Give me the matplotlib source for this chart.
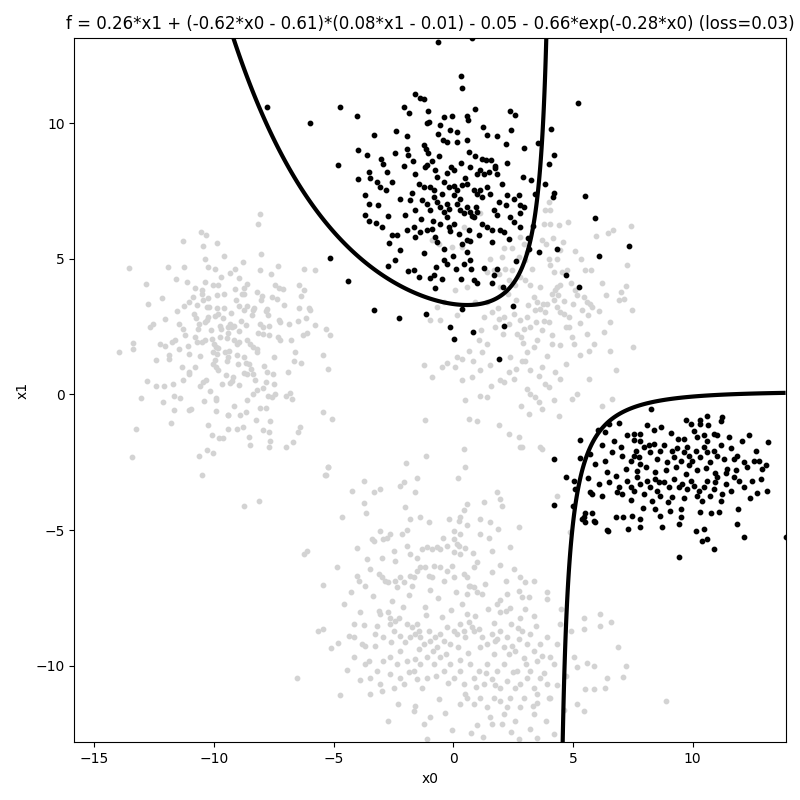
#!/usr/bin/env python3
"""Scatter of two classes with the learned decision boundary f = 0."""

import matplotlib

matplotlib.use("Agg")
import matplotlib.pyplot as plt
import numpy as np


TITLE = ("f = 0.26*x1 + (-0.62*x0 - 0.61)*(0.08*x1 - 0.01) - 0.05 - "
         "0.66*exp(-0.28*x0) (loss=0.03)")

# class 0 (light gray), cluster by cluster
GRAY_LEFT = [
    (-8.08, 6.64), (-8.17, 6.30), (-10.56, 5.97), (-10.32, 5.87), (-11.31, 5.66),
    (-9.86, 5.58), (-10.45, 5.46), (-8.05, 5.19), (-9.58, 5.10), (-13.54, 4.67),
    (-11.91, 4.70), (-11.24, 4.70), (-10.38, 5.00), (-10.24, 4.70), (-9.96, 4.64),
    (-8.80, 4.87), (-8.10, 4.58), (-7.64, 4.45), (-7.34, 4.72), (-6.25, 4.64),
    (-5.77, 4.60), (-9.33, 4.48), (-9.11, 4.63), (-8.94, 4.30), (-11.59, 4.24),
    (-11.14, 4.13), (-12.86, 4.07), (-10.38, 4.15), (-10.03, 4.02), (-9.82, 4.02),
    (-8.63, 4.08), (-8.74, 3.94), (-7.45, 4.02), (-7.27, 3.94), (-7.13, 3.90),
    (-6.47, 4.02), (-6.26, 3.86), (-9.12, 3.89), (-8.84, 3.71), (-8.74, 3.69),
    (-8.21, 3.79), (-8.00, 3.63), (-10.51, 3.84), (-10.49, 3.69), (-9.86, 3.68),
    (-9.57, 3.71), (-7.59, 3.59), (-6.37, 3.63), (-12.19, 3.57), (-10.89, 3.59),
    (-11.03, 3.41), (-12.78, 3.33), (-11.26, 3.27), (-10.72, 3.28), (-10.45, 3.47),
    (-10.31, 3.22), (-10.20, 3.22), (-9.58, 3.20), (-8.98, 3.25), (-8.77, 3.10),
    (-8.38, 3.10), (-8.33, 3.20), (-7.80, 3.16), (-7.82, 3.06), (-7.07, 3.28),
    (-6.47, 3.18), (-6.03, 3.20), (-5.98, 3.10), (-10.75, 2.80), (-10.24, 2.85),
    (-9.96, 2.89), (-9.82, 2.98), (-12.68, 2.48), (-12.54, 2.58), (-11.45, 2.58),
    (-11.31, 2.40), (-10.68, 2.42), (-10.38, 2.67), (-10.31, 2.73), (-9.75, 2.51),
    (-9.72, 2.42), (-9.40, 2.48), (-9.33, 2.58), (-9.16, 2.52), (-8.67, 2.55),
    (-8.08, 2.61), (-7.94, 2.48), (-7.70, 2.51), (-7.24, 2.67), (-7.27, 2.76),
    (-6.51, 2.70), (-6.14, 2.82), (-5.80, 2.56), (-5.31, 2.40), (-5.15, 2.19),
    (-13.96, 1.56), (-13.38, 1.89), (-13.40, 1.66), (-12.26, 1.87), (-12.05, 1.77),
    (-11.77, 1.93), (-11.63, 1.99), (-11.88, 1.44), (-11.88, 1.32), (-11.45, 1.69),
    (-11.08, 1.78), (-11.03, 1.49), (-10.78, 2.11), (-10.72, 1.93), (-10.51, 1.93),
    (-10.38, 1.99), (-10.10, 2.05), (-10.00, 1.87), (-9.92, 1.75), (-10.03, 1.56),
    (-9.89, 1.50), (-9.75, 2.11), (-9.44, 2.26), (-9.26, 2.48), (-9.16, 1.99),
    (-9.05, 1.85), (-8.94, 1.93), (-8.63, 1.99), (-8.52, 1.87), (-8.36, 1.75),
    (-8.21, 1.69), (-8.21, 1.56), (-7.96, 2.24), (-7.69, 2.18), (-7.34, 2.11),
    (-7.24, 2.02), (-6.78, 1.99), (-6.61, 1.56), (-6.65, 1.25), (-6.37, 1.17),
    (-6.29, 2.20), (-6.12, 2.28), (-5.43, 1.44), (-5.24, 0.95), (-9.54, 1.56),
    (-9.47, 1.25), (-9.44, 1.38), (-9.05, 1.44), (-9.02, 1.13), (-8.66, 1.17),
    (-8.55, 1.11), (-8.46, 0.95), (-8.36, 0.76), (-8.63, 0.76), (-8.77, 0.79),
    (-10.05, 1.13), (-9.92, 1.01), (-9.82, 0.89), (-11.34, 1.01), (-11.31, 0.55),
    (-11.06, 0.76), (-11.03, 0.84), (-10.78, 1.01), (-10.59, 0.33), (-10.45, 0.45),
    (-10.33, 0.52), (-12.79, 0.48), (-12.43, 0.30), (-12.09, 0.30), (-13.05, -0.14),
    (-12.12, -0.28), (-11.67, -0.07), (-11.42, -0.14), (-11.67, -0.59), (-10.98, -0.53),
    (-11.03, -0.57), (-9.92, -0.12), (-9.92, -0.22), (-9.92, -0.62), (-9.67, 0.37),
    (-9.33, 0.42), (-9.26, 0.49), (-9.19, 0.64), (-8.63, -0.22), (-8.36, 0.03),
    (-8.21, 0.17), (-7.94, 0.25), (-7.82, 0.45), (-7.80, 0.82), (-7.52, 0.76),
    (-7.49, 0.39), (-7.73, -0.04), (-7.59, -0.10), (-7.45, 0.03), (-6.99, -0.04),
    (-6.82, 0.05), (-6.75, -0.17), (-8.10, -0.49), (-7.82, -0.49), (-9.44, -0.77),
    (-8.91, -0.77), (-9.40, -0.75), (-8.26, -0.93), (-7.96, -1.31), (-7.66, -0.99),
    (-11.80, -1.05), (-10.24, -1.14), (-9.44, -1.27), (-9.05, -1.27), (-8.80, -1.21),
    (-13.26, -1.28), (-10.07, -1.48), (-9.78, -1.60), (-9.64, -1.61), (-8.56, -1.55),
    (-8.49, -1.86), (-7.69, -1.37), (-7.66, -1.70), (-7.70, -1.94), (-6.99, -1.92),
    (-6.72, -1.76), (-6.43, -1.21), (-6.51, -1.37), (-5.43, -0.65), (-5.09, -0.89),
    (-13.43, -2.29), (-10.64, -2.25), (-10.31, -2.04), (-10.04, -2.17), (-10.49, -2.95),
    (-5.34, -2.95), (-5.24, -2.68), (-8.74, -4.10), (-8.13, -3.91),
]

# extra dots in the crowded middle of the left cloud
GRAY_LEFT_CORE = [
    (-9.61, 2.83), (-9.28, 3.02), (-8.87, 2.71), (-10.12, 2.37), (-9.83, 1.71),
    (-9.37, 1.62), (-8.95, 2.33), (-8.41, 2.92), (-10.58, 1.42), (-10.27, 3.54),
    (-9.07, 3.48), (-8.62, 3.27), (-9.51, 0.71), (-8.97, 0.34), (-10.83, 2.98),
    (-11.22, 2.19), (-7.48, 1.37), (-7.91, 1.04), (-8.05, 3.48), (-9.72, 4.33),
    (-10.81, 3.93), (-11.57, 3.06), (-12.07, 2.78), (-8.29, 0.53), (-9.16, -0.41),
    (-10.44, -0.23), (-7.36, 3.53), (-6.88, 2.58), (-6.93, 0.84), (-12.41, 1.27),
    (-11.73, 0.37), (-10.19, 0.11), (-8.67, -0.63), (-9.87, 3.19), (-9.46, 2.09),
    (-8.76, 1.39), (-10.63, 2.61), (-8.18, 2.28), (-7.73, 2.93), (-9.98, 1.28),
]

GRAY_MIDDLE = [
    (3.99, 7.10), (3.85, 6.81), (4.06, 6.79), (4.80, 6.36), (4.41, 6.24),
    (4.06, 6.30), (3.78, 6.30), (6.67, 6.07), (6.47, 5.95), (7.44, 6.20),
    (5.98, 5.83), (4.15, 5.75), (3.89, 5.56), (3.71, 5.68), (5.08, 5.30),
    (4.48, 5.31), (4.34, 5.00), (4.06, 4.76), (3.99, 5.00), (7.27, 4.76),
    (5.49, 4.58), (5.77, 4.58), (4.20, 4.51), (4.55, 4.51), (4.76, 4.58),
    (4.90, 4.09), (5.10, 3.84), (5.18, 3.65), (7.20, 3.99), (6.99, 3.78),
    (7.13, 3.53), (6.92, 3.47), (5.45, 3.59), (5.59, 3.41), (5.80, 3.22),
    (5.73, 3.34), (5.38, 3.10), (4.13, 3.71), (4.27, 3.84), (4.34, 3.96),
    (4.48, 4.02), (4.20, 3.47), (4.34, 3.22), (4.48, 3.04), (4.62, 2.98),
    (4.83, 2.85), (3.92, 3.34), (3.75, 3.34), (3.50, 3.41), (3.36, 3.59),
    (3.22, 4.02), (3.01, 4.21), (2.80, 4.33), (2.46, 4.58), (2.31, 4.21),
    (2.18, 4.64), (2.04, 5.07), (2.10, 5.38), (2.46, 5.38), (2.80, 5.81),
    (2.94, 5.56), (2.73, 5.07), (3.01, 4.94), (1.55, 5.00), (1.69, 4.58),
    (1.41, 4.51), (1.90, 4.45), (1.97, 3.96), (0.43, 6.18), (1.13, 6.67),
    (0.36, 5.44), (-0.05, 5.44), (-0.61, 5.56), (-0.89, 5.68), (0.08, 3.84),
    (0.57, 3.96), (0.92, 3.41), (1.41, 3.41), (-0.68, 3.22), (-0.40, 3.41),
    (-0.96, 2.73), (-0.54, 2.73), (0.15, 2.92), (1.27, 2.85), (1.62, 3.04),
    (1.90, 2.79), (2.10, 2.85), (2.31, 2.61), (2.52, 2.98), (2.80, 2.73),
    (3.08, 2.85), (3.22, 2.48), (2.94, 2.42), (2.66, 2.24), (3.43, 3.10),
    (3.64, 3.16), (3.85, 3.04), (3.99, 2.67), (3.71, 2.36), (3.50, 1.99),
    (3.36, 1.75), (3.08, 1.56), (2.87, 1.25), (3.01, 1.25), (4.13, 1.87),
    (4.48, 1.81), (4.69, 2.48), (4.97, 2.11), (5.03, 1.87), (5.31, 1.44),
    (5.59, 2.24), (5.66, 1.62), (5.87, 1.87), (6.29, 2.30), (6.54, 2.67),
    (6.57, 1.62), (7.50, 1.75), (7.48, 3.10), (1.06, 1.99), (1.41, 1.87),
    (1.20, 1.56), (0.64, 1.62), (0.15, 1.38), (0.36, 1.32), (-0.26, 1.15),
    (-0.47, 1.01), (-1.24, 1.07), (-0.89, 0.64), (0.08, 1.01), (0.36, 0.52),
    (0.78, 0.64), (1.13, 0.91), (1.55, 1.07), (1.97, 0.52), (2.10, 0.45),
    (2.31, 0.82), (2.52, 0.58), (3.22, 0.91), (3.71, 1.01), (4.27, 0.82),
    (4.48, 0.58), (3.08, 0.21), (3.22, 0.03), (3.43, -0.10), (3.57, -0.28),
    (3.71, -0.53), (3.85, 0.39), (3.99, 0.27), (4.20, -0.22), (4.97, -0.16),
    (5.18, 0.03), (6.22, -0.41), (6.64, -0.16), (0.50, -0.22), (1.13, -0.04),
    (1.41, -0.10), (0.64, -0.90), (0.99, -0.96), (1.90, -1.14), (2.31, -1.45),
    (2.73, -1.58), (3.15, -0.71), (2.80, -1.95), (2.87, -1.95), (3.64, -1.95),
    (0.43, -2.00), (0.50, -2.66), (-1.13, -2.25), (-1.17, -0.94), (3.71, -2.00),
]

GRAY_MIDDLE_CORE = [
    (2.63, 3.47), (3.14, 3.31), (2.27, 3.69), (3.77, 2.71), (4.11, 2.19),
    (2.07, 2.23), (2.91, 1.89), (3.46, 2.66), (4.63, 3.43), (1.73, 2.48),
    (2.39, 1.38), (3.93, 1.43), (4.72, 1.13), (5.28, 2.63), (5.61, 2.94),
    (1.16, 2.39), (0.82, 1.24), (2.62, 0.94), (3.57, 0.69), (4.36, 3.68),
    (3.29, 4.63), (2.56, 4.05), (5.02, 3.32), (6.07, 3.06), (6.21, 4.12),
    (4.57, 5.62), (5.33, 5.01), (3.07, 5.24), (1.88, 3.17), (2.84, 2.13),
    (3.61, 3.97), (4.83, 2.47), (1.58, 0.31), (2.83, -0.43), (4.43, -0.81),
    (5.67, 0.58), (6.82, 0.92), (6.38, 3.67),
]

GRAY_BOTTOM = [
    (0.18, -3.09), (-5.22, -2.68), (-5.36, -2.96), (-1.99, -2.53), (-1.52, -3.08),
    (-3.72, -3.20), (-4.24, -3.54), (-3.33, -3.61), (-3.05, -3.48), (-2.22, -3.36),
    (-2.08, -3.24), (-1.59, -3.61), (-3.75, -4.00), (-3.64, -4.37), (-4.66, -4.50),
    (-2.01, -4.13), (1.83, -3.61), (1.97, -3.85), (1.27, -3.95), (2.04, -4.10),
    (0.57, -4.03), (0.43, -4.26), (4.34, -3.73), (4.87, -5.08), (2.73, -4.90),
    (2.38, -5.63), (1.97, -6.29), (1.62, -5.76), (-1.80, -4.59), (-1.38, -4.53),
    (-1.03, -4.71), (-0.19, -4.59), (0.22, -4.65), (0.29, -4.50), (0.57, -4.80),
    (1.13, -4.59), (1.55, -4.71), (1.87, -4.96), (0.01, -5.02), (0.04, -5.32),
    (0.29, -5.14), (0.50, -5.66), (0.15, -5.51), (1.13, -5.14), (1.48, -5.27),
    (0.99, -6.19), (0.85, -6.37), (0.68, -7.05), (-3.05, -5.02), (-2.77, -5.27),
    (-2.64, -5.14), (-2.92, -5.32), (-3.40, -5.32), (-3.33, -5.39), (-1.94, -4.99),
    (-2.15, -5.14), (-1.94, -5.57), (-4.03, -5.66), (-2.98, -6.01), (-2.43, -6.13),
    (-1.80, -5.88), (-1.52, -6.01), (-1.31, -5.69), (-1.10, -5.63), (-0.89, -5.69),
    (-0.68, -5.63), (-0.54, -5.69), (-0.26, -5.57), (0.22, -5.57), (0.01, -5.82),
    (-6.12, -5.76), (-6.26, -5.88), (-4.03, -6.68), (-3.96, -6.86), (-3.68, -7.05),
    (-3.47, -6.43), (-3.12, -6.62), (-2.98, -6.74), (-2.85, -6.86), (-2.71, -6.92),
    (-2.43, -6.86), (-2.36, -7.11), (-2.22, -6.74), (-2.08, -6.92), (-1.80, -6.68),
    (-1.66, -6.74), (-1.52, -6.49), (-1.38, -6.37), (-1.17, -6.37), (-1.03, -6.68),
    (-0.89, -6.74), (-0.82, -6.31), (-0.54, -6.37), (-0.40, -6.86), (-0.26, -6.49),
    (-0.05, -6.31), (0.01, -6.74), (0.26, -5.88), (0.43, -6.62), (0.57, -6.74),
    (0.64, -7.05), (0.85, -7.11), (0.99, -7.29), (1.20, -7.36), (1.34, -6.99),
    (0.57, -7.36), (1.83, -7.73), (1.97, -7.56), (2.25, -7.36), (2.38, -7.85),
    (2.73, -7.23), (2.87, -7.48), (2.80, -8.22), (3.36, -8.15), (3.92, -7.29),
    (3.92, -7.54), (1.97, -8.03), (2.20, -6.86), (2.77, -6.74), (3.01, -6.92),
    (3.36, -6.88), (5.45, -8.22), (6.15, -8.10), (6.15, -8.52), (5.45, -8.65),
    (4.90, -8.71), (-5.64, -8.71), (-5.43, -8.65), (-4.80, -9.17), (-4.38, -8.89),
    (-4.17, -8.95), (-4.17, -8.46), (-3.75, -8.49), (-3.19, -8.52), (-3.68, -9.26),
    (-3.26, -9.26), (-2.64, -8.46), (-2.50, -8.71), (-2.22, -8.89), (-3.12, -7.97),
    (-3.05, -8.10), (-2.71, -8.03), (-2.64, -8.22), (-2.43, -8.34), (-2.29, -8.22),
    (-1.94, -8.46), (-1.73, -8.58), (-1.59, -8.83), (-1.52, -8.46), (-1.45, -8.71),
    (-1.38, -8.95), (-1.24, -9.20), (-1.03, -8.71), (-0.96, -9.08), (-0.75, -8.95),
    (-0.68, -9.32), (-0.54, -8.83), (-0.40, -9.08), (-0.26, -8.58), (-0.13, -9.20),
    (0.01, -8.71), (0.15, -8.83), (0.29, -8.46), (0.43, -8.71), (0.50, -8.95),
    (0.64, -8.39), (0.78, -8.58), (0.85, -8.71), (1.06, -8.65), (1.20, -8.95),
    (1.41, -9.20), (1.62, -8.83), (1.76, -9.08), (1.97, -8.71), (2.10, -9.32),
    (2.25, -8.95), (2.46, -9.26), (2.59, -9.45), (2.73, -9.01), (2.87, -8.71),
    (3.08, -9.20), (3.22, -8.83), (3.36, -9.45), (3.50, -9.82), (3.64, -9.20),
    (3.92, -8.95), (4.06, -9.69), (4.20, -9.94), (4.34, -9.20), (4.48, -8.46),
    (5.03, -9.69), (5.18, -10.06), (5.59, -9.88), (5.87, -10.00), (6.43, -10.43),
    (6.36, -10.80), (5.52, -10.86), (5.87, -10.86), (5.18, -11.41), (5.45, -11.66),
    (7.20, -10.00), (0.71, -9.94), (0.85, -10.43), (1.06, -10.18), (1.27, -10.67),
    (1.41, -9.94), (1.62, -10.49), (1.83, -10.18), (1.97, -10.80), (2.10, -9.94),
    (2.25, -10.55), (2.38, -11.17), (2.59, -10.80), (2.66, -10.18), (2.80, -10.67),
    (2.94, -11.17), (3.08, -10.43), (3.22, -10.18), (3.36, -10.80), (3.50, -11.04),
    (3.64, -10.43), (3.92, -10.67), (4.06, -11.17), (-1.80, -8.95), (-2.22, -9.45),
    (-2.36, -9.94), (-1.94, -9.82), (-1.66, -10.18), (-1.38, -9.94), (-1.10, -9.69),
    (-0.82, -9.94), (-0.54, -9.69), (-0.40, -10.18), (-0.13, -9.94), (0.01, -10.43),
    (0.29, -10.18), (0.43, -10.67), (-1.10, -10.43), (-1.52, -10.49), (-2.22, -10.43),
    (-2.08, -10.67), (-2.50, -10.80), (-2.92, -9.82), (-3.19, -10.18), (-3.47, -10.43),
    (-3.05, -10.67), (-2.98, -10.92), (-3.54, -9.82), (-4.17, -9.69), (-3.68, -9.94),
    (-3.82, -9.20), (-2.92, -8.95), (-2.64, -9.69), (-4.73, -11.08), (-3.47, -11.02),
    (-1.66, -11.66), (-1.59, -11.48), (-1.24, -12.13), (-0.96, -11.90), (-0.33, -11.72),
    (0.29, -11.41), (0.99, -12.19), (1.62, -12.13), (2.04, -12.15), (1.24, -12.62),
    (2.73, -12.71), (3.50, -12.67), (4.20, -12.50), (-1.10, -12.71), (0.57, -11.17),
    (0.85, -11.41), (1.41, -11.53), (2.10, -11.78), (2.80, -11.53), (3.50, -11.35),
    (3.99, -11.17), (3.36, -11.78), (2.25, -11.53), (1.97, -11.29), (1.13, -11.17),
    (1.69, -11.17), (-6.53, -10.44), (8.87, -11.29), (6.90, -9.30), (6.60, -8.40),
    (7.10, -10.40),
]

GRAY_BOTTOM_CORE = [
    (-2.57, -7.62), (-1.87, -7.38), (-1.19, -7.84), (-0.63, -7.51), (-0.11, -7.93),
    (0.38, -7.72), (0.92, -8.16), (1.47, -7.92), (1.69, -8.41), (2.41, -8.47),
    (2.98, -7.91), (3.47, -8.52), (3.72, -9.63), (2.96, -9.71), (2.31, -9.58),
    (1.69, -9.57), (1.12, -9.31), (0.62, -9.52), (0.18, -9.29), (-0.31, -9.57),
    (-0.87, -9.47), (-1.42, -9.38), (-2.03, -9.13), (-2.61, -9.12), (-3.27, -8.83),
    (-3.91, -8.02), (-4.58, -7.73), (-1.73, -7.07), (-0.98, -7.22), (0.12, -7.28),
    (1.61, -6.53), (2.52, -6.42), (-2.49, -5.77), (-3.61, -6.07), (-0.43, -5.27),
    (0.83, -5.83), (1.76, -10.72), (2.48, -10.21), (3.03, -9.93), (3.81, -10.26),
    (4.32, -10.71), (1.37, -10.27), (0.93, -10.77), (0.47, -11.02), (-0.23, -10.62),
    (-0.71, -10.37), (-1.33, -10.81), (-1.87, -10.21), (-2.63, -10.31), (-0.61, -11.23),
    (1.52, -11.88), (2.57, -12.03), (3.21, -12.31), (-2.31, -11.42), (-3.92, -10.51),
    (-4.43, -10.17), (-5.11, -9.33), (4.62, -11.62), (4.73, -10.37), (4.51, -7.91),
    (3.17, -7.47), (2.21, -7.98), (0.57, -8.08), (-0.47, -8.21), (-1.13, -8.13),
    (-2.09, -7.82), (-3.37, -7.41), (-4.27, -7.27), (-4.87, -6.37), (-5.43, -7.02),
    (1.83, -9.01), (2.71, -8.61), (0.27, -9.77), (-1.61, -9.73), (3.31, -11.47),
    (0.73, -12.47), (2.43, -12.43), (-0.07, -12.36), (-2.71, -12.02), (3.88, -12.02),
]

# class 1 (black)
BLACK_TOP = [
    (-0.64, 13.00), (0.78, 13.12), (0.33, 11.75), (0.35, 11.28), (5.22, 10.73),
    (-1.62, 11.06), (-1.38, 10.91), (-1.21, 10.89), (-4.73, 10.58), (-6.01, 9.99),
    (-4.03, 10.26), (-2.05, 10.58), (-1.87, 10.36), (-1.05, 10.46), (-0.40, 10.24),
    (-0.05, 10.26), (0.57, 10.27), (0.60, 10.11), (2.36, 10.46), (2.59, 10.28),
    (-1.10, 9.99), (-1.03, 10.05), (-0.54, 9.93), (-0.15, 9.74), (0.15, 9.68),
    (1.24, 9.84), (1.41, 9.56), (2.43, 9.74), (-3.31, 9.56), (-1.94, 9.52),
    (-0.66, 9.58), (-0.43, 9.37), (-0.26, 9.31), (0.57, 9.37), (0.15, 9.31),
    (2.19, 9.23), (3.53, 9.25), (4.09, 9.78), (-4.00, 9.00), (-3.61, 8.82),
    (-2.45, 8.91), (-1.94, 9.04), (-1.24, 9.19), (-1.13, 9.04), (-1.06, 8.88),
    (0.64, 8.93), (0.92, 8.77), (1.20, 8.68), (1.38, 8.63), (1.59, 8.63),
    (-4.82, 8.47), (-2.92, 8.51), (-2.77, 8.20), (-2.08, 8.41), (-1.70, 8.60),
    (-1.17, 8.39), (-1.10, 8.47), (-0.75, 8.27), (-0.26, 8.17), (-0.10, 8.39),
    (0.04, 8.27), (0.71, 8.39), (1.13, 8.27), (1.27, 8.12), (1.51, 8.20),
    (1.76, 8.41), (-3.54, 8.20), (-3.47, 7.96), (-3.19, 7.84), (-3.05, 7.65),
    (-2.80, 7.53), (-3.99, 7.93), (-1.59, 8.14), (-1.45, 7.77), (-1.21, 7.65),
    (-0.96, 7.65), (-0.82, 7.53), (-0.68, 8.02), (-0.40, 7.84), (-0.19, 7.65),
    (0.01, 7.68), (0.15, 7.55), (0.36, 7.71), (0.57, 7.77), (0.85, 7.55),
    (0.99, 7.40), (1.13, 7.53), (1.20, 7.28), (1.41, 7.65), (1.55, 7.40),
    (1.73, 8.33), (1.83, 8.14), (2.04, 7.77), (2.25, 7.34), (2.52, 7.22),
    (2.73, 7.34), (2.80, 6.97), (2.97, 6.91), (3.25, 7.90), (3.43, 7.40),
    (3.85, 7.77), (4.20, 7.44), (4.17, 7.28), (3.99, 8.51), (4.20, 8.82),
    (5.49, 7.31), (-3.71, 7.34), (-3.54, 7.03), (-3.15, 6.97), (-1.80, 7.16),
    (-1.59, 6.79), (-1.31, 7.16), (-1.10, 7.03), (-0.99, 6.79), (-0.82, 7.28),
    (-0.68, 7.10), (-0.57, 6.91), (-0.40, 6.73), (-0.26, 7.03), (-0.19, 6.85),
    (0.01, 7.34), (0.15, 7.03), (0.29, 6.79), (0.43, 6.67), (0.57, 6.91),
    (0.71, 6.73), (0.78, 6.56), (-3.68, 6.61), (-3.54, 6.40), (-2.98, 6.18),
    (-2.71, 6.57), (-2.56, 5.87), (-2.36, 5.87), (-2.01, 6.61), (-1.94, 6.05),
    (-1.66, 6.18), (-1.59, 5.81), (-1.38, 5.99), (-1.10, 6.05), (-0.89, 6.11),
    (-0.75, 5.81), (-0.68, 5.62), (-0.54, 6.29), (-0.26, 6.54), (-0.19, 6.18),
    (0.04, 6.29), (0.22, 5.92), (0.36, 5.56), (0.57, 5.68), (0.71, 5.66),
    (0.85, 6.54), (0.99, 6.73), (1.20, 6.29), (1.41, 6.18), (1.62, 6.05),
    (1.83, 6.61), (1.97, 6.05), (2.10, 5.99), (2.38, 6.54), (2.52, 6.36),
    (2.77, 6.18), (2.80, 6.67), (-2.22, 5.31), (-2.43, 4.94), (-2.71, 4.72),
    (-1.91, 4.55), (-1.66, 4.60), (-1.45, 4.34), (-0.99, 4.30), (-0.79, 4.39),
    (-0.71, 4.68), (-0.40, 4.94), (-0.26, 4.82), (-0.47, 4.27), (-0.01, 5.09),
    (0.32, 4.27), (0.43, 4.82), (0.71, 4.94), (0.74, 4.64), (0.85, 4.21),
    (0.99, 4.09), (0.57, 5.25), (1.62, 4.09), (2.08, 3.96), (1.69, 4.39),
    (1.83, 4.64), (-0.75, 3.94), (-5.15, 5.03), (-4.41, 4.17), (-3.31, 3.13),
    (-2.29, 2.83), (-1.13, 2.98), (-0.13, 2.48), (0.04, 2.05), (0.36, 3.16),
    (0.81, 2.32), (2.48, 3.25), (2.10, 2.51), (4.34, 5.37), (4.72, 4.39),
    (5.24, 3.96), (5.91, 6.52), (6.11, 5.12), (3.17, 5.37), (3.60, 5.25),
    (-7.78, 10.59), (7.36, 5.46), (1.92, 1.29),
]

BLACK_TOP_CORE = [
    (-0.47, 7.37), (0.27, 7.21), (0.93, 6.91), (1.71, 6.81), (2.21, 6.97),
    (-1.37, 6.47), (-0.87, 6.38), (-0.13, 6.02), (0.64, 6.07), (1.09, 5.87),
    (1.63, 5.62), (2.33, 5.73), (-2.21, 7.22), (-2.57, 7.83), (-1.91, 8.81),
    (-0.91, 8.61), (0.33, 8.53), (0.97, 8.13), (2.23, 8.52), (2.91, 8.03),
    (-3.23, 6.31), (-2.69, 5.57), (-1.21, 5.21), (-0.41, 5.37), (0.11, 4.61),
    (1.27, 4.67), (2.62, 4.91), (3.31, 6.21), (-1.73, 7.41), (0.47, 7.97),
    (1.93, 7.11), (-0.61, 8.77), (-3.03, 8.67), (2.97, 9.07), (1.81, 9.53),
    (-2.41, 9.71), (0.91, 10.51), (3.13, 5.77),
]

BLACK_RIGHT = [
    (8.27, -0.55), (9.71, -0.93), (9.92, -1.08), (10.31, -0.93), (10.31, -1.08),
    (10.62, -0.81), (10.64, -1.14), (11.24, -0.84), (11.17, -0.96), (6.05, -1.31),
    (6.50, -1.08), (6.92, -1.06), (6.36, -1.38), (5.28, -1.67), (6.71, -1.70),
    (7.27, -1.48), (7.54, -1.45), (7.54, -1.67), (7.82, -1.45), (7.82, -1.70),
    (8.08, -1.14), (8.38, -1.31), (8.69, -1.18), (9.08, -1.43), (9.64, -1.64),
    (10.08, -1.33), (10.20, -1.55), (10.47, -1.51), (10.62, -1.70), (10.89, -1.45),
    (11.52, -1.58), (12.05, -1.70), (12.36, -1.51), (13.17, -1.76), (4.20, -2.38),
    (5.31, -2.34), (5.70, -2.19), (5.94, -2.58), (6.32, -2.44), (6.64, -2.13),
    (7.06, -2.25), (7.41, -2.44), (7.62, -2.07), (7.75, -2.31), (7.82, -2.56),
    (7.96, -1.94), (8.17, -1.88), (8.24, -2.13), (8.38, -1.82), (8.52, -2.36),
    (8.66, -2.07), (8.80, -1.88), (8.94, -2.48), (9.15, -2.07), (9.22, -2.31),
    (9.36, -1.99), (9.50, -2.44), (9.64, -2.13), (9.78, -1.94), (9.85, -2.25),
    (9.99, -2.44), (10.13, -2.07), (10.33, -2.31), (10.47, -1.94), (10.62, -2.13),
    (10.75, -2.48), (10.89, -2.07), (11.03, -2.25), (11.17, -1.88), (11.31, -2.36),
    (11.45, -2.73), (11.59, -1.99), (11.73, -2.36), (11.87, -2.25), (12.15, -2.48),
    (12.29, -2.68), (12.57, -2.44), (12.78, -2.44), (12.92, -2.73), (13.05, -2.61),
    (4.73, -3.05), (5.03, -3.17), (5.10, -3.48), (5.80, -3.67), (6.22, -3.73),
    (6.50, -3.24), (6.78, -2.99), (6.92, -3.42), (7.06, -3.67), (7.27, -3.17),
    (7.41, -3.42), (7.54, -3.54), (7.68, -3.05), (7.82, -3.30), (7.96, -3.67),
    (8.10, -3.17), (8.24, -3.42), (8.45, -3.10), (8.52, -3.54), (8.66, -3.73),
    (8.80, -3.24), (9.01, -3.42), (9.15, -3.79), (9.22, -3.10), (9.43, -3.42),
    (9.57, -3.30), (9.78, -3.48), (9.92, -3.17), (10.05, -3.36), (10.20, -3.73),
    (10.26, -3.54), (10.47, -3.42), (10.62, -3.17), (10.75, -3.73), (10.89, -3.48),
    (11.03, -3.05), (11.24, -3.67), (11.38, -3.30), (11.59, -3.54), (11.73, -3.05),
    (11.94, -3.17), (12.15, -3.42), (12.50, -3.17), (12.85, -3.10), (13.12, -3.54),
    (4.20, -4.06), (4.99, -4.10), (5.45, -4.53), (5.52, -4.71), (5.80, -4.37),
    (5.94, -4.71), (6.46, -5.02), (6.78, -4.50), (7.10, -4.50), (7.48, -4.46),
    (7.82, -4.59), (7.82, -4.90), (7.29, -4.96), (8.45, -4.22), (8.66, -4.46),
    (8.73, -4.90), (9.50, -4.53), (9.50, -4.22), (9.43, -4.77), (10.13, -5.02),
    (10.47, -4.96), (10.33, -4.34), (10.40, -5.39), (10.62, -5.32), (10.89, -5.69),
    (11.10, -4.34), (11.87, -4.77), (11.90, -4.22), (12.15, -5.26), (9.43, -5.99),
    (13.89, -5.26), (5.38, -4.59), (5.52, -4.37), (5.90, -4.68), (6.43, -4.98),
    (5.73, -3.61),
]

BLACK_RIGHT_CORE = [
    (7.21, -2.73), (7.67, -2.81), (8.07, -2.66), (8.43, -2.87), (8.89, -2.77),
    (9.31, -2.69), (9.71, -2.93), (10.17, -2.79), (10.57, -2.71), (10.93, -2.88),
    (11.41, -2.91), (11.83, -2.77), (6.43, -2.87), (6.83, -3.61), (7.43, -3.88),
    (8.31, -3.92), (8.97, -3.97), (9.63, -3.83), (10.39, -3.94), (11.17, -3.93),
    (12.41, -3.81), (7.93, -4.17), (9.07, -4.31), (10.77, -4.37), (12.67, -2.07),
    (6.21, -1.87), (7.03, -1.93), (9.41, -1.63), (11.01, -1.51), (12.71, -3.63),
    (5.61, -3.09), (6.07, -3.31), (9.87, -2.61), (8.61, -3.21), (10.93, -3.21),
    (7.57, -2.27),
]

# decision boundary coefficients, as printed in the title
A_X1 = 0.26
B_X0, B_C = -0.62, -0.61
C_X1, C_C = 0.08, -0.01
BIAS = -0.05
E_AMP, E_RATE = -0.66, -0.28

XLIM = (-15.84, 13.89)
YLIM = (-12.82, 13.15)


def boundary(x0, x1):
    return (A_X1 * x1 + (B_X0 * x0 + B_C) * (C_X1 * x1 + C_C) + BIAS
            + E_AMP * np.exp(E_RATE * x0))


def main() -> None:
    fig, ax = plt.subplots(figsize=(8, 8), dpi=100)
    fig.subplots_adjust(left=0.093, right=0.982, bottom=0.072, top=0.953)

    gray = np.array(GRAY_LEFT + GRAY_LEFT_CORE + GRAY_MIDDLE + GRAY_MIDDLE_CORE
                    + GRAY_BOTTOM + GRAY_BOTTOM_CORE)
    black = np.array(BLACK_TOP + BLACK_TOP_CORE + BLACK_RIGHT + BLACK_RIGHT_CORE)
    ax.scatter(gray[:, 0], gray[:, 1], s=10, color="lightgray")
    ax.scatter(black[:, 0], black[:, 1], s=10, color="black")

    gx = np.linspace(XLIM[0], XLIM[1], 600)
    gy = np.linspace(YLIM[0], YLIM[1], 600)
    X0, X1 = np.meshgrid(gx, gy)
    ax.contour(X0, X1, boundary(X0, X1), levels=[0], colors="black", linewidths=3)

    ax.set_xlim(*XLIM)
    ax.set_ylim(*YLIM)
    ax.set_xlabel("x0")
    ax.set_ylabel("x1")
    ax.set_title(TITLE)
    fig.savefig("out.png")
    plt.close(fig)


if __name__ == "__main__":
    main()
